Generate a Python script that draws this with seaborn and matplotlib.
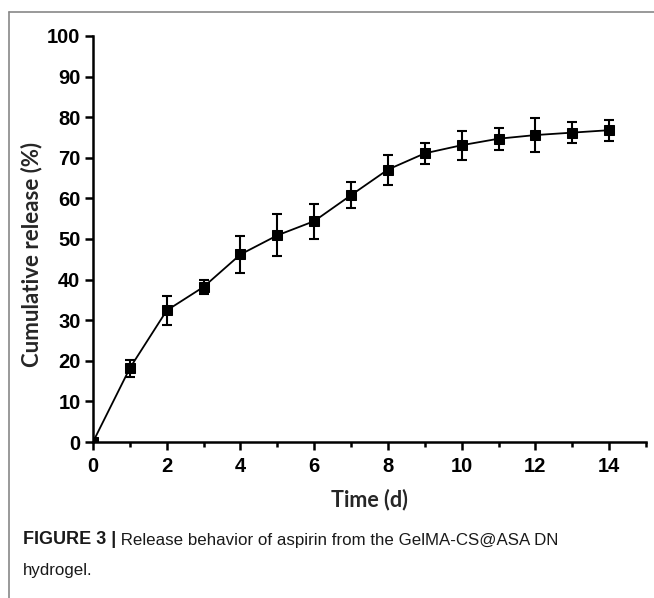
import matplotlib
matplotlib.use("Agg")
import matplotlib.pyplot as plt
import seaborn as sns
import pandas as pd
from matplotlib.ticker import MultipleLocator
from matplotlib.lines import Line2D

# ---- data ----
time_d = [0, 1, 2, 3, 4, 5, 6, 7, 8, 9, 10, 11, 12, 13, 14]
release = [0, 18.2, 32.4, 38.2, 46.2, 50.9, 54.4, 60.8, 67.1, 71.1, 73.1, 74.7, 75.6, 76.2, 76.8]
err = [0, 2.1, 3.6, 1.7, 4.5, 5.2, 4.3, 3.2, 3.7, 2.6, 3.6, 2.7, 4.2, 2.6, 2.6]
x_label = "Time (d)"
y_label = "Cumulative release (%)"
caption_bold = "FIGURE 3 |"
caption_rest = " Release behavior of aspirin from the GelMA-CS@ASA DN"
caption_line2 = "hydrogel."

df = pd.DataFrame({"t": time_d, "r": release, "e": err})

sns.set_theme(style="ticks")
plt.rcParams["font.family"] = ["Liberation Sans", "DejaVu Sans"]

fig = plt.figure(figsize=(6.54, 5.98), dpi=100)
ax = fig.add_axes([93/654, 1-442/598, 553/654, 406/598])

sns.lineplot(data=df, x="t", y="r", ax=ax, color="black", linewidth=1.3,
             marker="s", markersize=7.8, markeredgecolor="black", zorder=3)
ax.errorbar(df["t"][1:], df["r"][1:], yerr=df["e"][1:], fmt="none",
            ecolor="black", elinewidth=1.5, capsize=3.8, capthick=1.5, zorder=2)

ax.set_xlim(0, 15)
ax.set_ylim(0, 100)
ax.xaxis.set_major_locator(MultipleLocator(2))
ax.xaxis.set_minor_locator(MultipleLocator(1))
ax.yaxis.set_major_locator(MultipleLocator(10))

for s in ["top", "right"]:
    ax.spines[s].set_visible(False)
for s in ["left", "bottom"]:
    ax.spines[s].set_linewidth(1.8)
    ax.spines[s].set_color("black")

ax.tick_params(axis="both", which="major", direction="out", length=5.5, width=1.8,
               colors="black", labelsize=14.5)
ax.tick_params(axis="x", which="major", pad=5.5)
ax.tick_params(axis="y", which="major", pad=3.5)
ax.tick_params(axis="x", which="minor", direction="out", length=3.5, width=1.8, colors="black")
for lbl in ax.get_xticklabels() + ax.get_yticklabels():
    lbl.set_fontweight("bold")

lab_font = ["Lato", "Open Sans", "DejaVu Sans"]
ax.set_xlabel(x_label, fontsize=15.5, fontweight="bold", family=lab_font)
ax.set_ylabel(y_label, fontsize=16, fontweight="bold", family=lab_font)
ax.xaxis.label.set_va("center")
ax.yaxis.label.set_va("center")
ax.xaxis.set_label_coords(0.5, (442 - 499.5) / 406)
ax.yaxis.set_label_coords((32 - 93) / 553, (442 - 254) / 406)

# frame lines around the figure (top and left)
fig.add_artist(Line2D([9/654, 1], [1-12/598, 1-12/598], transform=fig.transFigure,
                      color="#888888", linewidth=1.2))
fig.add_artist(Line2D([9/654, 9/654], [0, 1-12/598], transform=fig.transFigure,
                      color="#888888", linewidth=1.2))

# caption
cap_font = ["Liberation Sans", "DejaVu Sans"]
t1 = fig.text(23/654, 1-540/598, caption_bold, fontsize=13, fontweight="bold",
              family=cap_font, va="center", ha="left", color="#1a1a1a")
fig.canvas.draw()
bb = t1.get_window_extent()
x2 = bb.x1 / fig.bbox.width
fig.text(x2, 1-540/598, caption_rest, fontsize=12.2, family=cap_font,
         va="center", ha="left", color="#1a1a1a")
fig.text(23/654, 1-570/598, caption_line2, fontsize=12.2, family=cap_font,
         va="center", ha="left", color="#1a1a1a")

fig.savefig("out.png", dpi=100)
